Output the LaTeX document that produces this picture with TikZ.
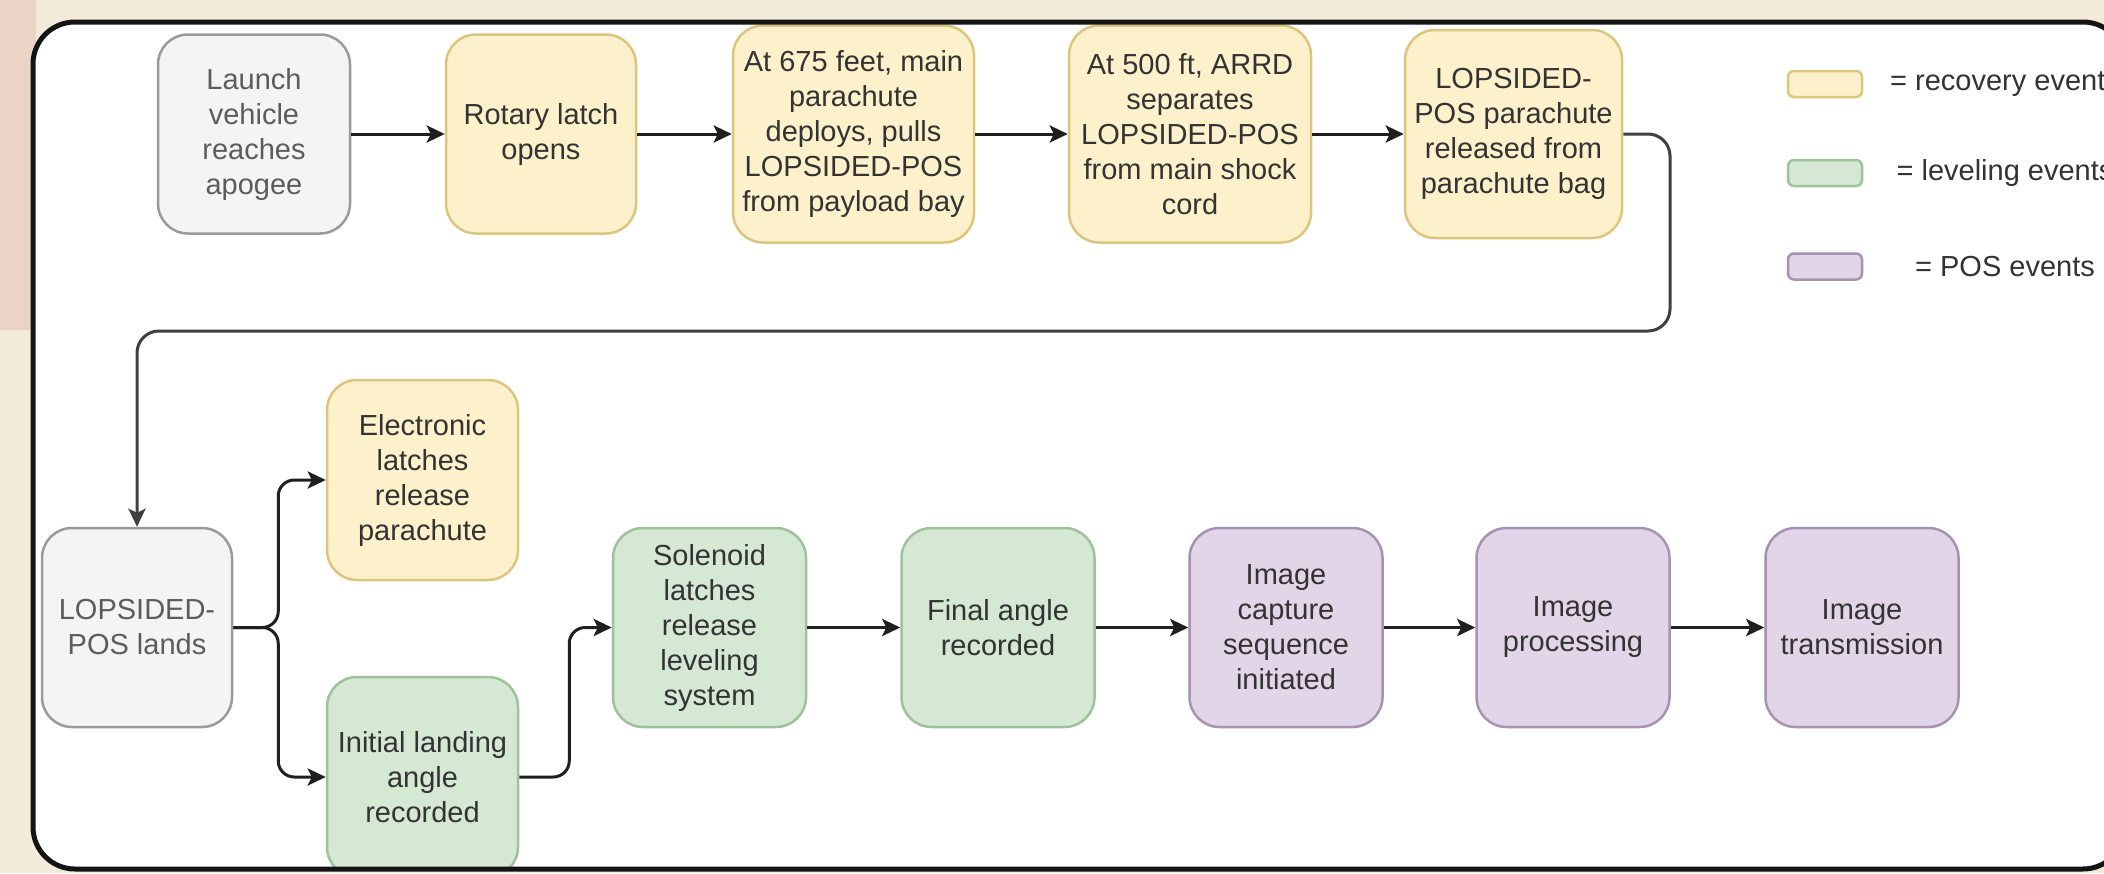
\documentclass[tikz,border=0pt]{standalone}
\usepackage{fontspec}
\setmainfont{Liberation Sans}
\usetikzlibrary{arrows.meta}

\definecolor{creambg}{HTML}{F3EAD9}
\definecolor{pinkbg}{HTML}{EBD3C6}
\definecolor{yfill}{HTML}{FDF1CB}
\definecolor{ydraw}{HTML}{DCC67E}
\definecolor{gfill}{HTML}{D5E8D4}
\definecolor{gdraw}{HTML}{9EC39A}
\definecolor{pfill}{HTML}{E1D5E7}
\definecolor{pdraw}{HTML}{A892B2}
\definecolor{nfill}{HTML}{F4F4F4}
\definecolor{ndraw}{HTML}{9A9A9A}
\definecolor{txt}{HTML}{333333}
\definecolor{ntxt}{HTML}{5C5C5C}

\tikzset{
  evt/.style={rounded corners=30pt, line width=2.5pt, align=center,
    font=\fontsize{29}{35}\selectfont, text=txt, inner sep=0pt},
  recov/.style={evt, fill=yfill, draw=ydraw},
  level/.style={evt, fill=gfill, draw=gdraw},
  posev/.style={evt, fill=pfill, draw=pdraw},
  neutral/.style={evt, fill=nfill, draw=ndraw, text=ntxt},
  rowA/.style={minimum width=192pt, minimum height=199pt},
  rowB/.style={minimum width=193pt, minimum height=199pt},
  flow/.style={draw=black!88, line width=3pt,
    -{Stealth[length=18pt,width=17pt,inset=4pt]}},
  swatch/.style={rounded corners=6pt, line width=2.5pt,
    minimum width=74pt, minimum height=26pt, inner sep=0pt},
  legtext/.style={font=\fontsize{29}{35}\selectfont, text=txt, inner sep=0pt},
}

\begin{document}
\begin{tikzpicture}[x=1pt, y=-1pt]
\useasboundingbox (0,0) rectangle (2104,873);

% page background and outer frame
\fill[creambg] (0,0) rectangle (2104,873);
\fill[pinkbg] (0,0) rectangle (36,330);
\fill[white, rounded corners=42pt] (33,22) rectangle (2125,869);

% top row: recovery sequence
\node[neutral, rowA] (B1) at (254,134) {Launch\\vehicle\\reaches\\apogee};
\node[recov, minimum width=190pt, minimum height=199pt] (B2) at (541,134) {Rotary latch\\opens};
\node[recov, minimum width=241pt, minimum height=217pt] (B3) at (853.5,134)
  {At 675 feet, main\\parachute\\deploys, pulls\\LOPSIDED-POS\\from payload bay};
\node[recov, minimum width=242pt, minimum height=217pt] (B4) at (1190,134)
  {At 500 ft, ARRD\\separates\\LOPSIDED-POS\\from main shock\\cord};
\node[recov, minimum width=217pt, minimum height=208pt] (B5) at (1513.5,134)
  {LOPSIDED-\\POS parachute\\released from\\parachute bag};

% legend
\node[swatch, fill=yfill, draw=ydraw] (L1) at (1825,84) {};
\node[swatch, fill=gfill, draw=gdraw] (L2) at (1825,173) {};
\node[swatch, fill=pfill, draw=pdraw] (L3) at (1825,266.5) {};
\node[legtext] (T1) at (2005,84) {= recovery events};
\node[legtext] (T2) at (2005,173) {= leveling events};
\node[legtext] (T3) at (2005,266.5) {= POS events};

% bottom row: landing, leveling and POS sequence
\node[neutral, minimum width=190pt, minimum height=199pt] (B6) at (137,627.5) {LOPSIDED-\\POS lands};
\node[recov, minimum width=191pt, minimum height=200pt] (B7) at (422.5,480)
  {Electronic\\latches\\release\\parachute};
\begin{scope}
  \clip[rounded corners=42pt] (33,22) rectangle (2125,869);
  \node[level, minimum width=191pt, minimum height=200pt] (B8) at (422.5,777)
    {Initial landing\\angle\\recorded};
\end{scope}
\node[level, rowB] (B9) at (709.5,627.5) {Solenoid\\latches\\release\\leveling\\system};
\node[level, rowB] (B10) at (998,627.5) {Final angle\\recorded};
\node[posev, rowB] (B11) at (1286,627.5) {Image\\capture\\sequence\\initiated};
\node[posev, rowB] (B12) at (1573,627.5) {Image\\processing};
\node[posev, rowB] (B13) at (1862,627.5) {Image\\transmission};

% connectors, top row
\draw[flow] (B1.east) -- (B2.west);
\draw[flow] (B2.east) -- (B2.east -| B3.west);
\draw[flow] (B3.east) -- (B3.east -| B4.west);
\draw[flow] (B4.east) -- (B4.east -| B5.west);

% return path to the bottom row
\coordinate (turn) at (1670,331);
\draw[flow, draw=black!75, rounded corners=22pt] (B5.east) -| (turn) -| (B6.north);

% connectors, bottom row
\draw[flow, rounded corners=16pt] (B6.east) -- ++(45,0) |- (B7.west);
\draw[flow, rounded corners=16pt] (B6.east) -- ++(45,0) |- (B8.west);
\draw[flow, rounded corners=16pt] (B8.east) -- ++(50,0) |- (B9.west);
\draw[flow] (B9.east) -- (B10.west);
\draw[flow] (B10.east) -- (B11.west);
\draw[flow] (B11.east) -- (B12.west);
\draw[flow] (B12.east) -- (B13.west);

% frame outline on top
\draw[line width=5pt, draw=black!92, rounded corners=42pt] (33,22) rectangle (2125,869);
\end{tikzpicture}
\end{document}
